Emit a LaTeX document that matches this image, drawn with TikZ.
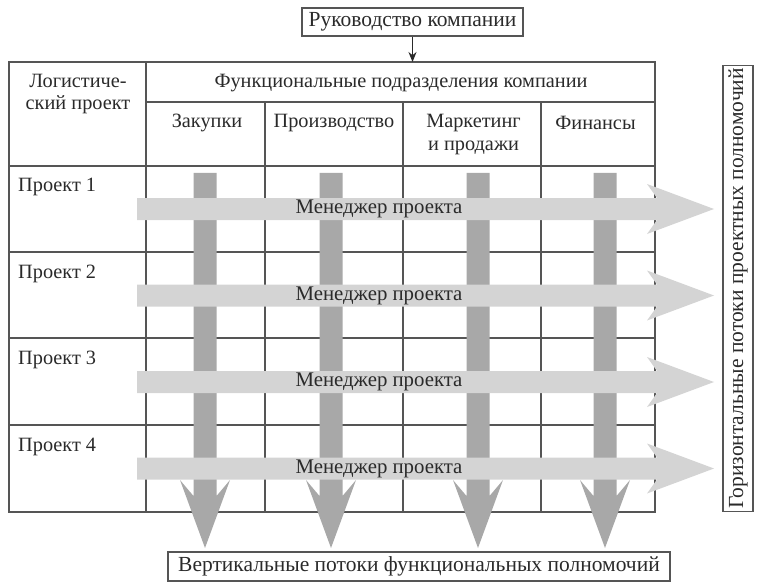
\documentclass[tikz,border=0pt]{standalone}
\usepackage{fontspec}
\setmainfont{Liberation Serif}
\usetikzlibrary{arrows.meta}
\definecolor{gridc}{HTML}{555555}
\definecolor{vbar}{HTML}{A8A8A8}
\definecolor{hbar}{HTML}{D4D4D4}
\definecolor{ink}{HTML}{2A2A2A}
\tikzset{
  grid line/.style={draw=gridc, line width=1.1pt},
  labelbox/.style={draw=gridc, line width=1.1pt, inner sep=0pt, text=ink, font=\fontsize{21.5}{24}\selectfont},
  txt/.style={inner sep=0pt, text=ink, font=\fontsize{20.3}{22}\selectfont, align=center},
  mtxt/.style={inner sep=0pt, text=ink, font=\fontsize{20.8}{24}\selectfont},
  vflow/.style={fill=vbar, draw=none},
  hflow/.style={fill=hbar, draw=none},
}
\begin{document}
\begin{tikzpicture}[x=1pt,y=-1pt]
\useasboundingbox (0,0) rectangle (762,588);
% table grid
\draw[grid line] (9,62) rectangle (655,512);
\draw[grid line] (146,62) -- (146,512);
\foreach \x in {265,403,541} \draw[grid line] (\x,102) -- (\x,512);
\draw[grid line] (146,102) -- (655,102);
\foreach \y in {166,252,338,425} \draw[grid line] (9,\y) -- (655,\y);
% header texts
\node[txt] (hlog) at (78,94.5) {Логистиче-\\ский проект};
\node[txt] (hfun) at (401,83) {Функциональные подразделения компании};
\node[txt] (c1) at (207,123) {Закупки};
\node[txt] (c2) at (334,123) {Производство};
\node[txt] (c3) at (473.5,134.5) {Маркетинг\\[1pt]и продажи};
\node[txt] (c4) at (595.5,123) {Финансы};
% project labels
\foreach \i/\y in {1/187,2/273.5,3/360,4/446.5}
  \node[txt, anchor=west] (p\i) at (18,\y) {Проект \i};
% vertical flows
\foreach \cx in {205,331,478,605}
  \fill[vflow] (\cx-11.5,173) -- (\cx+11.5,173) -- (\cx+11.5,496) -- (\cx+25,480)
     -- (\cx,548) -- (\cx-25,480) -- (\cx-11.5,496) -- cycle;
% horizontal flows
\foreach \cy/\n in {209/1,295.5/2,382/3,468.5/4}{
  \fill[hflow] (137,\cy-11) -- (657,\cy-11) -- (647,\cy-25) -- (714,\cy)
     -- (647,\cy+25) -- (657,\cy+11) -- (137,\cy+11) -- cycle;
  \node[mtxt] (m\n) at (379,\cy) {Менеджер проекта};
}
% boxes
\node[labelbox, minimum width=221pt, minimum height=28pt] (top) at (412.5,22) {Руководство компании};
\coordinate (tabletop) at (412.5,62);
\draw[line width=1pt, draw=ink, -{Stealth[length=10pt,width=8pt]}] (top.south) -- (tabletop);
\node[labelbox, rotate=90, minimum width=446pt, minimum height=30pt] (right) at (738,288.5) {Горизонтальные потоки проектных полномочий};
\node[labelbox, minimum width=502pt, minimum height=29pt] (bottom) at (419,566.5) {Вертикальные потоки функциональных полномочий};
\end{tikzpicture}
\end{document}
